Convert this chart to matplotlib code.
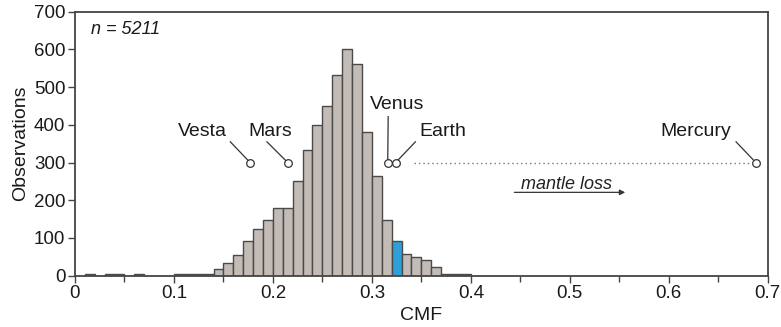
import numpy as np
import matplotlib.pyplot as plt
from matplotlib.ticker import MultipleLocator

plt.rcParams['font.family'] = ['Liberation Sans', 'DejaVu Sans']

# histogram bins (left edges, width 0.01) and counts
bin_left = [0.01, 0.03, 0.04, 0.06, 0.10, 0.11, 0.12, 0.13, 0.14, 0.15,
            0.16, 0.17, 0.18, 0.19, 0.20, 0.21, 0.22, 0.23, 0.24, 0.25,
            0.26, 0.27, 0.28, 0.29, 0.30, 0.31, 0.32, 0.33, 0.34, 0.35,
            0.36, 0.37, 0.38, 0.39]
counts = [4, 4, 4, 4, 4, 4, 4, 4, 18, 33,
          55, 93, 124, 148, 180, 180, 251, 333, 399, 450,
          533, 602, 562, 380, 264, 148, 93, 57, 50, 42,
          24, 4, 4, 4]
earth_bin = 0.32

planets = ['Vesta', 'Mars', 'Venus', 'Earth', 'Mercury']
planet_cmf = [0.177, 0.215, 0.316, 0.324, 0.688]
planet_y = 300
label_pos = [(0.129, 383), (0.1975, 383), (0.325, 453), (0.372, 382), (0.627, 382)]
leader_start = [(0.157, 355), (0.194, 355), (0.3165, 422), (0.344, 355), (0.668, 355)]

fig = plt.figure(figsize=(7.81, 3.27), dpi=100)
ax = fig.add_axes([0.096, 0.157, 0.887, 0.807])

colors = ['#2f9fd8' if abs(b - earth_bin) < 1e-6 else '#c3bbb6' for b in bin_left]
ax.bar(bin_left, counts, width=0.01, align='edge', color=colors,
       edgecolor='#4a4a4a', linewidth=1.0, zorder=2)

# mantle loss trend
ax.plot([0.343, 0.684], [planet_y, planet_y], linestyle=(0, (1, 2.2)),
        color='#777777', linewidth=1.0, zorder=1)
ax.annotate('', xy=(0.556, 221), xytext=(0.444, 221),
            arrowprops=dict(arrowstyle='-|>', color='#333333', lw=0.9,
                            mutation_scale=8, shrinkA=0, shrinkB=0))
ax.text(0.497, 243, 'mantle loss', style='italic', fontsize=13,
        ha='center', va='center', color='#222222')

for name, x, (lx, ly), (sx, sy) in zip(planets, planet_cmf, label_pos, leader_start):
    ax.plot([sx, x], [sy, planet_y], color='#333333', linewidth=0.9, zorder=3)
    ax.plot(x, planet_y, 'o', markersize=5.5, markerfacecolor='white',
            markeredgecolor='#333333', markeredgewidth=0.9, zorder=4)
    ax.text(lx, ly, name, fontsize=14, ha='center', va='center', color='#1a1a1a')

ax.text(0.016, 652, 'n = 5211', style='italic', fontsize=13, ha='left',
        va='center', color='#1a1a1a')

ax.set_xlim(0, 0.7)
ax.set_ylim(0, 700)
ax.xaxis.set_major_locator(MultipleLocator(0.1))
ax.xaxis.set_minor_locator(MultipleLocator(0.05))
ax.yaxis.set_major_locator(MultipleLocator(100))
ax.set_xticks(np.arange(0, 0.71, 0.1))
ax.set_xticklabels(['0', '0.1', '0.2', '0.3', '0.4', '0.5', '0.6', '0.7'])
ax.tick_params(axis='both', which='both', direction='out', color='#444444',
               width=1.0, labelsize=13.5, labelcolor='#1a1a1a')
ax.tick_params(which='major', length=5, pad=2)
ax.tick_params(which='minor', length=4)

for sp in ax.spines.values():
    sp.set_color('#444444')
    sp.set_linewidth(1.3)

ax.set_xlabel('CMF', fontsize=14, color='#1a1a1a', labelpad=3)
ax.set_ylabel('Observations', fontsize=14, color='#1a1a1a', labelpad=3)

plt.savefig('out.png', dpi=100)
